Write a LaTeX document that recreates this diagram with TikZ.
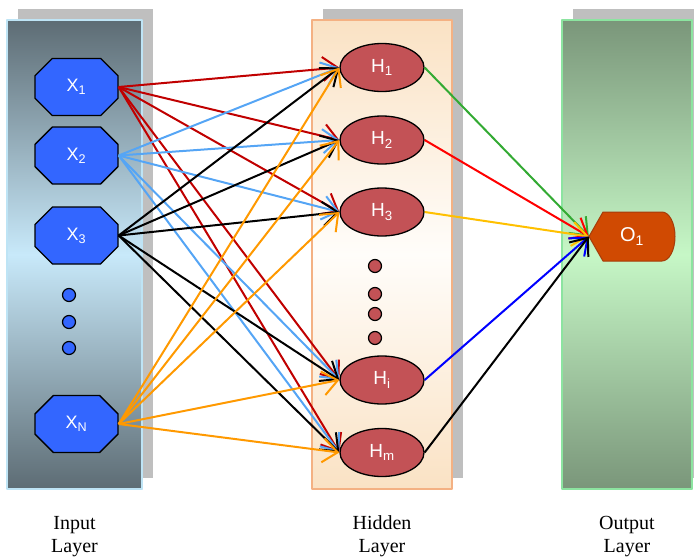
\documentclass[tikz,border=0pt]{standalone}
\usepackage{fontspec}
\setmainfont{Liberation Serif}
\newfontfamily\unitfont{Liberation Sans}
\usepackage{tikz}
\usetikzlibrary{arrows.meta, positioning, shapes.geometric, shapes.misc, shadows}
\definecolor{shade_col}{RGB}{191, 191, 191}
\definecolor{in_dark}{RGB}{93, 108, 116}
\definecolor{in_light}{RGB}{200, 233, 250}
\definecolor{in_edge}{RGB}{190, 228, 245}
\definecolor{hid_dark}{RGB}{250, 226, 196}
\definecolor{hid_light}{RGB}{255, 253, 250}
\definecolor{hid_edge}{RGB}{244, 177, 131}
\definecolor{out_dark}{RGB}{122, 150, 122}
\definecolor{out_light}{RGB}{198, 247, 198}
\definecolor{out_edge}{RGB}{140, 228, 160}
\definecolor{x_fill}{RGB}{51, 102, 255}
\definecolor{h_fill}{RGB}{195, 82, 86}
\definecolor{o_fill}{RGB}{208, 74, 2}
\definecolor{o_edge}{RGB}{165, 60, 10}
\definecolor{x1_col}{RGB}{192, 0, 0}
\definecolor{x2_col}{RGB}{85, 165, 245}
\definecolor{xn_col}{RGB}{255, 153, 0}
\definecolor{h1_col}{RGB}{51, 170, 51}
\definecolor{h3_col}{RGB}{255, 192, 0}
\newcommand{\unit}[2]{#1\textsubscript{#2}}

\begin{document}
\begin{tikzpicture}[x=1pt, y=-1pt, line join=round,
    every node/.style={align=center},
    panel/.style={line width=1.5pt, inner sep=0pt, minimum height=469pt,
      drop shadow={shadow xshift=10.5pt, shadow yshift=11pt, opacity=1,
        fill=shade_col}},
    xunit/.style={chamfered rectangle, chamfered rectangle xsep=18pt,
      chamfered rectangle ysep=16pt,
      draw, line width=1.3pt, fill=x_fill, minimum width=83pt,
      minimum height=57pt, inner sep=0pt, text=white,
      font=\unitfont\fontsize{18}{18}\selectfont},
    hunit/.style={ellipse, draw, line width=1.3pt, fill=h_fill,
      minimum width=84pt, minimum height=48pt, inner sep=0pt, text=white,
      font=\unitfont\fontsize{19}{19}\selectfont},
    dot/.style={circle, draw, line width=1.2pt, minimum size=13pt,
      inner sep=0pt},
    link/.style={line width=2pt,
      -{Straight Barb[length=15pt, width=24pt, line width=2pt]}},
    layerlabel/.style={inner sep=0pt, font=\fontsize{20}{23}\selectfont}]
  \useasboundingbox (0,0) rectangle (694,560);

  % layer panels
  \node[panel, draw=in_edge, minimum width=135pt, top color=in_dark,
        bottom color=in_dark, middle color=in_light] (inlayer) at (74.5,254.5) {};
  \node[panel, draw=hid_edge, minimum width=140pt, top color=hid_dark,
        bottom color=hid_dark, middle color=hid_light] (hidlayer) at (382,254.5) {};
  \node[panel, draw=out_edge, minimum width=130pt, top color=out_dark,
        bottom color=out_dark, middle color=out_light] (outlayer) at (627,254.5) {};

  % input units
  \node[xunit] (x1) at (76.5,87) {\unit{X}{1}};
  \node[xunit] (x2) at (76.5,155.5) {\unit{X}{2}};
  \node[xunit] (x3) at (76.5,235.5) {\unit{X}{3}};
  \node[xunit] (xn) at (76.5,424) {\unit{X}{N}};
  \node[dot, fill=x_fill] (xd1) at (69,295) {};
  \node[dot, fill=x_fill] (xd2) at (69,322) {};
  \node[dot, fill=x_fill] (xd3) at (69,348) {};

  % hidden units
  \node[hunit] (h1) at (382,67.5) {\unit{H}{1}};
  \node[hunit] (h2) at (382,140) {\unit{H}{2}};
  \node[hunit] (h3) at (382,212) {\unit{H}{3}};
  \node[hunit] (hi) at (382,380) {\unit{H}{i}};
  \node[hunit] (hm) at (382,452.5) {\unit{H}{m}};
  \node[dot, fill=h_fill] (hd1) at (375,266) {};
  \node[dot, fill=h_fill] (hd2) at (375,294) {};
  \node[dot, fill=h_fill] (hd3) at (375,314) {};
  \node[dot, fill=h_fill] (hd4) at (375,338) {};

  % output unit
  \coordinate (ocentre) at (632,236.5);
  \filldraw[fill=o_fill, draw=o_edge, line width=1pt]
    ([xshift=-43pt]ocentre) -- ([shift={(-29pt,24.5pt)}]ocentre)
    -- ([shift={(30pt,24.5pt)}]ocentre)
    arc[start angle=90, end angle=-90, x radius=13pt, y radius=24.5pt]
    -- ([shift={(-29pt,-24.5pt)}]ocentre) -- cycle;
  \node[minimum width=86pt, minimum height=49pt, inner sep=0pt, text=white,
        font=\unitfont\fontsize{20}{20}\selectfont] (o1)
    at (ocentre) {\unit{O}{1}};

  % weights
  \foreach \src/\col in {x1/x1_col, x2/x2_col, x3/black, xn/xn_col}
    \foreach \dst in {h1, h2, h3, hi, hm}
      \draw[link, draw=\col] (\src.east) -- (\dst.west);
  \draw[link, draw=h1_col] (h1.east) -- (o1.west);
  \draw[link, draw=red] (h2.east) -- (o1.west);
  \draw[link, draw=h3_col] (h3.east) -- (o1.west);
  \draw[link, draw=blue] (hi.east) -- (o1.west);
  \draw[link, draw=black] (hm.east) -- (o1.west);

  % layer names
  \node[layerlabel, below=26pt of inlayer] (inname) {Input\\Layer};
  \node[layerlabel, below=26pt of hidlayer] (hidname) {Hidden\\ Layer};
  \node[layerlabel, below=26pt of outlayer] (outname) {Output\\Layer};
\end{tikzpicture}
\end{document}
